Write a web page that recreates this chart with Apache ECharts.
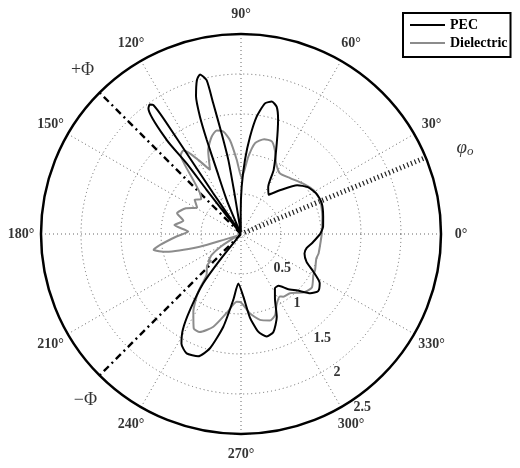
<!DOCTYPE html>
<html>
<head>
<meta charset="utf-8">
<script src="https://cdn.jsdelivr.net/npm/echarts@6/dist/echarts.min.js"></script>
<style>
  html, body { margin: 0; padding: 0; background: #fff; }
  #chart { width: 520px; height: 468px; }
</style>
</head>
<body>
<div id="chart"></div>
<script>
// pattern: angle in degrees, magnitude on the radial scale
const pecAngle = [0, 5, 12, 21, 28, 35, 41, 48, 55, 60, 63, 68.5, 72, 74.3, 76.9, 79.6, 82.4, 84.7, 86.9, 89.2, 90.8, 94,
  98.9, 99.2, 99.7, 100.9, 102, 102.6, 104.4, 106, 108.1, 109.3, 110, 110.8, 112.8, 117,
  124.3, 123.9, 124.2, 125.2, 126.4, 128.3, 127.6, 127.9, 130, 135, 180, 225,
  228, 231, 232.6, 236.1, 238.7, 241.5, 245.5, 250.7, 254.8, 259.2, 263.3, 266.9, 272.1, 276.1, 280, 284.1, 288.3,
  293.3, 297.5, 302, 306, 310.3, 315, 319.5, 323.5, 328, 332.5, 337, 343, 348, 353, 360]
const pecR = [0.99, 1.03, 1.05, 1.08, 1.07, 1.02, 0.93, 0.74, 0.60, 0.68, 0.90, 1.22, 1.50, 1.65, 1.70, 1.66, 1.48, 1.22, 0.93, 0.59, 0.26, 0.02,
  0.22, 0.56, 0.94, 1.28, 1.67, 1.97, 2.06, 2.00, 1.81, 1.55, 1.25, 0.86, 0.46, 0.02,
  0.62, 1.46, 1.95, 1.98, 1.95, 1.50, 1.11, 0.70, 0.05, 0.02, 0.02, 0.02,
  0.05, 0.42, 0.78, 1.14, 1.40, 1.56, 1.64, 1.62, 1.48, 1.18, 0.83, 0.62, 0.78, 1.05, 1.24, 1.32, 1.29,
  1.13, 0.92, 0.80, 0.80, 0.90, 1.00, 1.14, 1.20, 1.16, 1.02, 0.89, 0.83, 0.84, 0.90, 0.99]

const dieAngle = [0, 12, 23, 31, 39, 48.7, 57.3, 63.7, 68, 71.6, 76.3, 81.2, 84.6, 89.3, 93.3, 96.7, 99.8, 103.2, 106.8,
  111.3, 115.8, 120, 122.3, 124.7, 127.4, 129.1, 131.5, 135.2, 139, 143.5, 149, 155, 162, 167, 172.4, 177.4,
  182, 187.7, 190.3, 193.4, 197.2, 198.7, 205, 212, 215.6, 220.3, 221.5, 223, 230, 233.5, 238.5, 243.4, 247.2,
  253.4, 259.8, 266.4, 269.2, 276.5, 282.5, 288.5, 292.8, 296.7, 301.9, 304, 309.6, 317, 323, 330.4, 334, 342, 346, 360]
const dieR = [1.01, 1.04, 1.075, 1.06, 1.00, 0.93, 0.90, 0.99, 1.13, 1.22, 1.22, 1.15, 0.97, 0.70, 0.93, 1.18, 1.30, 1.33, 1.27,
  1.13, 0.89, 1.07, 1.19, 1.27, 1.24, 1.11, 0.90, 0.72, 0.66, 0.72, 0.64, 0.76, 0.84, 0.74, 0.84, 0.66,
  0.80, 1.02, 1.11, 0.96, 0.54, 0.23, 0.05, 0.30, 0.45, 0.54, 0.50, 0.58, 0.67, 0.90, 1.14, 1.32, 1.33,
  1.21, 1.00, 0.85, 0.85, 1.00, 1.10, 1.14, 1.10, 0.99, 0.92, 0.945, 0.96, 1.07, 1.11, 1.04, 1.03, 0.99, 1.00, 1.01]

const angleTicks = [0, 30, 60, 90, 120, 150, 180, 210, 240, 270, 300, 330]
const radiusTicks = [0.5, 1, 1.5, 2, 2.5]
const phiO = 22.5      // direction of the dotted line
const phiPlus = 135    // +Φ edge
const phiMinus = 225   // −Φ edge

const serif = "'Liberation Serif', 'Times New Roman', serif"
const lineIcon = 'path://M0,0h35v2.2h-35z'
const chart = echarts.init(document.getElementById('chart'))

const zip = (ang, r) => ang.map((a, i) => [r[i], a])
const textSeries = (data, label) => ({
  type: 'scatter',
  coordinateSystem: 'polar',
  data: data,
  symbolSize: 1,
  itemStyle: { color: 'rgba(0,0,0,0)' },
  clip: false,
  silent: true,
  label: Object.assign({ show: true, color: '#000', fontFamily: serif }, label)
})
const ray = (angle, r0, r1, lineStyle) => ({
  type: 'line',
  coordinateSystem: 'polar',
  data: [[r0, angle], [r1, angle]],
  symbol: 'none',
  clip: false,
  silent: true,
  lineStyle: lineStyle
})

chart.setOption({
  animation: false,
  backgroundColor: '#fff',
  polar: { center: [241, 234], radius: 200 },
  angleAxis: {
    type: 'value',
    min: 0,
    max: 360,
    interval: 30,
    startAngle: 0,
    clockwise: false,
    axisLine: { lineStyle: { color: '#000', width: 2.5 } },
    axisTick: { show: false },
    axisLabel: { show: false },
    splitLine: { show: true, lineStyle: { color: '#666', width: 1, type: [1, 3] } }
  },
  radiusAxis: {
    type: 'value',
    min: 0,
    max: 2.5,
    interval: 0.5,
    axisLine: { show: false },
    axisTick: { show: false },
    axisLabel: { show: false },
    splitLine: { show: true, lineStyle: { color: '#666', width: 1, type: [1, 3] } }
  },
  legend: {
    data: [{ name: 'PEC', icon: lineIcon }, { name: 'Dielectric', icon: lineIcon }],
    orient: 'vertical',
    left: 403,
    top: 13,
    padding: [5, 3, 7, 7],
    itemGap: 4,
    itemWidth: 35,
    itemHeight: 14,
    symbolKeepAspect: true,
    borderColor: '#000',
    borderWidth: 2,
    backgroundColor: '#fff',
    textStyle: { fontFamily: serif, fontWeight: 'bold', fontSize: 14, color: '#000' }
  },
  series: [
    ray(phiO, 0.05, 2.69, { color: '#222', width: 5, type: [1.2, 2.8] }),
    ray(phiPlus, 0, 2.7, { color: '#000', width: 2.4, type: [7, 4, 2, 4] }),
    ray(phiMinus, 0, 2.7, { color: '#000', width: 2.4, type: [7, 4, 2, 4] }),
    {
      name: 'Dielectric',
      type: 'line',
      coordinateSystem: 'polar',
      data: zip(dieAngle, dieR),
      symbol: 'none',
      smooth: 0.2,
      clip: false,
      itemStyle: { color: '#8c8c8c' },
      lineStyle: { color: '#8c8c8c', width: 2 }
    },
    {
      name: 'PEC',
      type: 'line',
      coordinateSystem: 'polar',
      data: zip(pecAngle, pecR),
      symbol: 'none',
      smooth: 0.2,
      clip: false,
      itemStyle: { color: '#000' },
      lineStyle: { color: '#000', width: 2 }
    },
    textSeries(angleTicks.map(a => [2.75, a]), {
      position: 'inside', fontWeight: 'bold', fontSize: 14,
      formatter: p => p.value[1] + '°'
    }),
    textSeries(radiusTicks.map(v => [v, 300]), {
      position: 'right', distance: 12, fontWeight: 'bold', fontSize: 14,
      formatter: p => String(p.value[0])
    }),
    textSeries([[2.85, phiPlus - 1], [2.85, phiMinus + 2]], {
      position: 'inside', fontSize: 18,
      formatter: p => (p.dataIndex === 0 ? '+Φ' : '−Φ')
    }),
    textSeries([[3.0, phiO - 1.5]], {
      position: 'inside',
      formatter: '{a|φ}{b|o}',
      rich: {
        a: { fontFamily: serif, fontStyle: 'italic', fontSize: 19, color: '#000' },
        b: { fontFamily: serif, fontStyle: 'italic', fontSize: 13, color: '#000', padding: [8, 0, 0, 0] }
      }
    })
  ]
})
</script>
</body>
</html>
